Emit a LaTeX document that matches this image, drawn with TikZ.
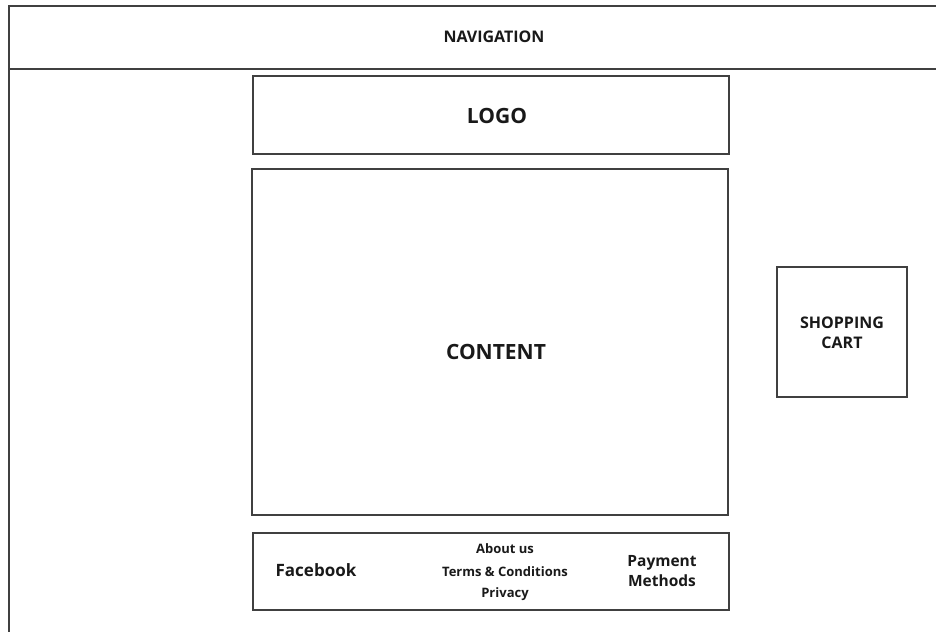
\documentclass[tikz,border=0pt]{standalone}
\usepackage{fontspec}
\setmainfont{Open Sans}
\definecolor{frame}{HTML}{404040}
\begin{document}
\begin{tikzpicture}[x=1pt,y=-1pt,
  box/.style={draw=frame,line width=1.8pt,inner sep=0pt},
  lbl/.style={font=\bfseries\fontsize{#1}{#1}\selectfont,text=black!90,align=center,inner sep=0pt}]
  \useasboundingbox (0,0) rectangle (936,632);

  % page frame
  \coordinate (tr) at (936,6);
  \coordinate (tl) at (9,6);
  \coordinate (bl) at (9,632);
  \coordinate (nl) at (9,69);
  \coordinate (nr) at (936,69);
  \draw[frame,line width=1.8pt] (tr) -- (tl) -- (bl);
  \draw[frame,line width=1.8pt] (nl) -- (nr);
  \node[lbl=16] (nav) at (494,37) {NAVIGATION};

  % boxes
  \node[box,minimum width=476pt,minimum height=78pt] (logo) at (491,115) {};
  \node[box,minimum width=476pt,minimum height=346pt] (content) at (490,342) {};
  \node[box,minimum width=130pt,minimum height=130pt] (cart) at (842,332) {};
  \node[box,minimum width=476pt,minimum height=77pt] (footer) at (491,571.5) {};

  \node[lbl=21] (logotext) at (497,116) {LOGO};
  \node[lbl=21] (contenttext) at (496,352) {CONTENT};
  \node[lbl=16] (carttext) at (842,333) {SHOPPING\\[4pt]CART};

  % footer
  \node[lbl=17] (facebook) at (316,570) {Facebook};
  \node[lbl=13] (about) at (505,549) {About us};
  \node[lbl=13] (terms) at (505,572) {Terms \& Conditions};
  \node[lbl=13] (privacy) at (505,594) {Privacy};
  \node[lbl=15.5] (payment) at (662,571) {Payment\\[4pt]Methods};
\end{tikzpicture}
\end{document}
